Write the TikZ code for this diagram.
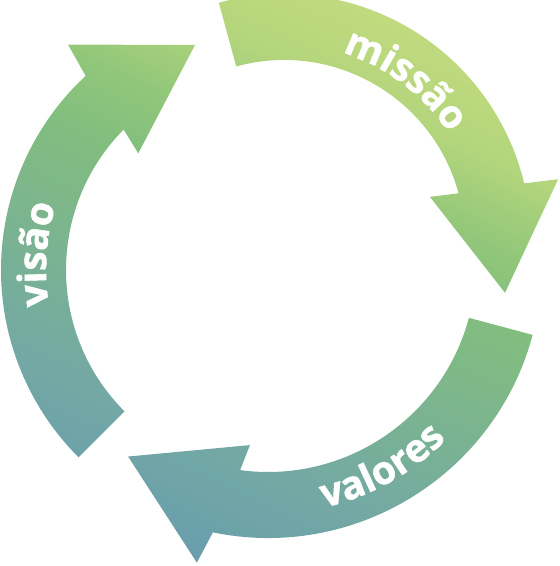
\documentclass[tikz,border=0pt]{standalone}
\usepackage{fontspec}
\usetikzlibrary{calc,decorations.text}
\newfontfamily\labelfont{Open Sans}[BoldFeatures={FakeBold=1.2}]

\definecolor{ringA}{HTML}{6A9EAC}
\definecolor{ringB}{HTML}{73A8A5}
\definecolor{ringC}{HTML}{82BE7E}
\definecolor{ringD}{HTML}{92C77A}
\definecolor{ringE}{HTML}{B3D57C}
\definecolor{ringF}{HTML}{C0DA7E}
\pgfdeclarehorizontalshading{ringshade}{100bp}{color(0bp)=(ringA); color(25bp)=(ringA); color(34bp)=(ringB); color(55bp)=(ringC); color(61bp)=(ringD); color(68bp)=(ringE); color(75bp)=(ringF); color(100bp)=(ringF)}

\tikzset{
  ringtext/.style={decorate, decoration={text along path, text align=center,
      text={|\labelfont\bfseries\fontsize{19.5}{22}\selectfont\color{white}|#1}}}
}

\begin{document}
\begin{tikzpicture}[x=0.5pt, y=0.5pt]
    \useasboundingbox (0, 0) rectangle (560, 566);
    \coordinate (c1) at (284, 325);
    \coordinate (c2) at (266, 296);
    \coordinate (c3) at (268, 302);

    %% arrows, one clip, one shading
    \begin{scope}
      \clip
      %%missao
        ($(c1)+(105.3:247)$) arc[start angle=105.3, end angle=13.5, radius=247]
        -- ($(c1)+(12.7:281)$) -- ($(c1)+(-13.2:227)$) -- ($(c1)+(16.8:152.5)$)
        -- ($(c1)+(15.3:181)$) arc[start angle=15.3, end angle=105.3, radius=181] -- cycle
      %%visao
        ($(c2)+(225:265)$) arc[start angle=225, end angle=132.9, radius=265]
        -- ($(c2)+(131.3:300)$) -- ($(c2)+(107.5:236)$) -- ($(c2)+(137.6:173)$)
        -- ($(c2)+(135.4:200)$) arc[start angle=135.4, end angle=225, radius=200] -- cycle
      %%valores
        ($(c3)+(-15:274)$) arc[start angle=-15, end angle=-101.6, radius=274]
        -- ($(c3)+(-103.4:307)$) -- ($(c3)+(-126:238)$) -- ($(c3)+(-95.7:182)$)
        -- ($(c3)+(-97.7:208)$) arc[start angle=-97.7, end angle=-15, radius=208] -- cycle;
      \shade[shading=ringshade, shading angle=65] (0, 0) rectangle (560, 566);
    \end{scope}

    %% labels
    \path[ringtext=missão] ($(c1)+(81:197)$) arc[start angle=81, end angle=25, radius=197];
    \path[ringtext=visão] ($(c2)+(200:220)$) arc[start angle=200, end angle=152, radius=220];
    \path[ringtext=valores] ($(c3)+(269.3:250)$) arc[start angle=269.3, end angle=329.3, radius=250];

\end{tikzpicture}
\end{document}
